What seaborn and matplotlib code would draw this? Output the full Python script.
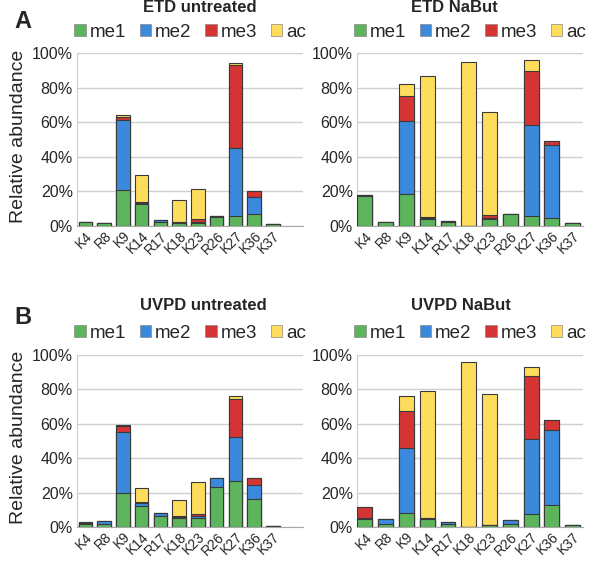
import matplotlib
matplotlib.use("Agg")
import matplotlib.pyplot as plt
from matplotlib.patches import Patch
from matplotlib.ticker import PercentFormatter
import pandas as pd
import seaborn as sns

# histone sites on the x axis
sites = ['K4', 'R8', 'K9', 'K14', 'R17', 'K18', 'K23', 'R26', 'K27', 'K36', 'K37']
mods = ['me1', 'me2', 'me3', 'ac']

# relative abundance (%) per modification
etd_untr_me1 = [2.3, 2.0, 21.0, 13.0, 2.5, 2.0, 1.5, 5.0, 6.0, 7.0, 1.0]
etd_untr_me2 = [0.2, 0.0, 40.5, 0.5, 1.0, 0.3, 1.0, 1.0, 39.0, 10.0, 0.0]
etd_untr_me3 = [0.0, 0.0, 1.5, 0.5, 0.0, 0.3, 1.5, 0.0, 48.0, 3.3, 0.0]
etd_untr_ac = [0.0, 0.0, 1.0, 15.5, 0.0, 12.2, 17.5, 0.0, 1.0, 0.0, 0.0]

etd_nabut_me1 = [17.5, 2.3, 18.5, 4.0, 2.5, 0.0, 3.8, 6.8, 5.5, 4.5, 1.5]
etd_nabut_me2 = [0.3, 0.0, 42.0, 0.5, 0.5, 0.0, 0.7, 0.0, 53.0, 42.5, 0.3]
etd_nabut_me3 = [0.0, 0.0, 14.5, 0.5, 0.0, 0.0, 2.0, 0.0, 31.0, 2.0, 0.0]
etd_nabut_ac = [0.0, 0.0, 7.0, 82.0, 0.0, 95.0, 59.5, 0.0, 6.5, 0.3, 0.0]

uvpd_untr_me1 = [1.5, 2.0, 19.5, 12.5, 6.5, 5.0, 5.0, 23.0, 27.0, 16.5, 0.5]
uvpd_untr_me2 = [1.0, 1.5, 35.5, 1.5, 1.5, 1.0, 1.5, 5.5, 25.5, 8.0, 0.0]
uvpd_untr_me3 = [0.3, 0.0, 3.5, 0.5, 0.0, 0.5, 1.0, 0.0, 22.0, 4.0, 0.0]
uvpd_untr_ac = [0.0, 0.0, 1.0, 8.0, 0.0, 9.0, 18.5, 0.0, 1.5, 0.0, 0.0]

uvpd_nabut_me1 = [4.5, 2.0, 8.0, 4.5, 1.5, 0.0, 1.0, 1.5, 7.5, 13.0, 1.0]
uvpd_nabut_me2 = [1.0, 2.5, 38.0, 0.5, 1.5, 0.0, 0.3, 2.5, 43.5, 43.5, 0.0]
uvpd_nabut_me3 = [6.0, 0.0, 21.5, 0.0, 0.0, 0.0, 0.0, 0.0, 37.0, 5.5, 0.0]
uvpd_nabut_ac = [0.0, 0.0, 8.5, 74.0, 0.0, 96.0, 76.2, 0.0, 5.0, 0.0, 0.0]

colors = {'me1': '#5cb45c', 'me2': '#3a89dc', 'me3': '#d43434', 'ac': '#ffdd5c'}

sns.set_style("white")
plt.rcParams['font.family'] = ['Liberation Sans', 'DejaVu Sans']

fig = plt.figure(figsize=(6.0, 5.69), dpi=100)

# panel layout: (title, data, axes rect, xlim, legend x, title x)
panels = [
    ("ETD untreated", [etd_untr_me1, etd_untr_me2, etd_untr_me3, etd_untr_ac],
     [0.1283, 0.6028, 0.3767, 0.3040], (-0.45, 11.6), 0.50, 200),
    ("ETD NaBut", [etd_nabut_me1, etd_nabut_me2, etd_nabut_me3, etd_nabut_ac],
     [0.595, 0.6028, 0.3767, 0.3040], (-0.38, 10.5), 0.50, 454),
    ("UVPD untreated", [uvpd_untr_me1, uvpd_untr_me2, uvpd_untr_me3, uvpd_untr_ac],
     [0.1283, 0.0738, 0.3767, 0.3023], (-0.45, 11.6), 0.50, 203),
    ("UVPD NaBut", [uvpd_nabut_me1, uvpd_nabut_me2, uvpd_nabut_me3, uvpd_nabut_ac],
     [0.595, 0.0738, 0.3767, 0.3023], (-0.38, 10.5), 0.50, 461),
]

for i, (title, vals, rect, xl, legx, titx) in enumerate(panels):
    ax = fig.add_axes(rect)
    df = pd.DataFrame(dict(zip(mods, vals)), index=sites)
    cum = df.cumsum(axis=1)
    cum['site'] = sites
    # stacked bars: draw cumulative totals from the top segment down
    for m in reversed(mods):
        sns.barplot(data=cum, x='site', y=m, order=sites, color=colors[m],
                    width=0.72, edgecolor='#3a3a3a', linewidth=0.8,
                    saturation=1, ax=ax, zorder=3)
    ax.set_xlim(*xl)
    ax.set_ylim(0, 100)
    ax.set_yticks(range(0, 101, 20))
    ax.yaxis.set_major_formatter(PercentFormatter(decimals=0))
    ax.yaxis.grid(True, color='#cfcfcf', linewidth=1.0, zorder=0)
    ax.set_axisbelow(True)
    ax.set_xlabel('')
    ax.set_ylabel('')
    ax.tick_params(axis='y', length=0, pad=3, labelsize=11.5)
    ax.tick_params(axis='x', length=0, pad=2, labelsize=10)
    plt.setp(ax.get_xticklabels(), rotation=45, ha='right', rotation_mode='anchor')
    for s in ['top', 'right']:
        ax.spines[s].set_visible(False)
    ax.spines['left'].set_color('#cccccc')
    ax.spines['bottom'].set_color('#a8a8a8')

    handles = [Patch(facecolor=colors[m], edgecolor='#888888', linewidth=0.5) for m in mods]
    legy = 1.12 if i < 2 else 1.125
    ax.legend(handles, mods, loc='center', bbox_to_anchor=(legx, legy), ncol=4,
              frameon=False, fontsize=13.5, handlelength=0.6, handleheight=0.6,
              handletextpad=0.2, columnspacing=0.75, borderaxespad=0)

    ty = 8 if i < 2 else 305
    fig.text(titx / 600, 1 - ty / 569, title, ha='center', va='center',
             fontsize=12, fontweight='bold')

# panel letters and y labels
fig.text(14 / 600, 1 - 22 / 569, 'A', ha='left', va='center', fontsize=17, fontweight='bold')
fig.text(14 / 600, 1 - 318 / 569, 'B', ha='left', va='center', fontsize=17, fontweight='bold')
fig.text(19 / 600, 1 - 136 / 569, 'Relative abundance', rotation=90, ha='center',
         va='center', fontsize=14)
fig.text(19 / 600, 1 - 437 / 569, 'Relative abundance', rotation=90, ha='center',
         va='center', fontsize=14)

fig.savefig("out.png", dpi=100)
